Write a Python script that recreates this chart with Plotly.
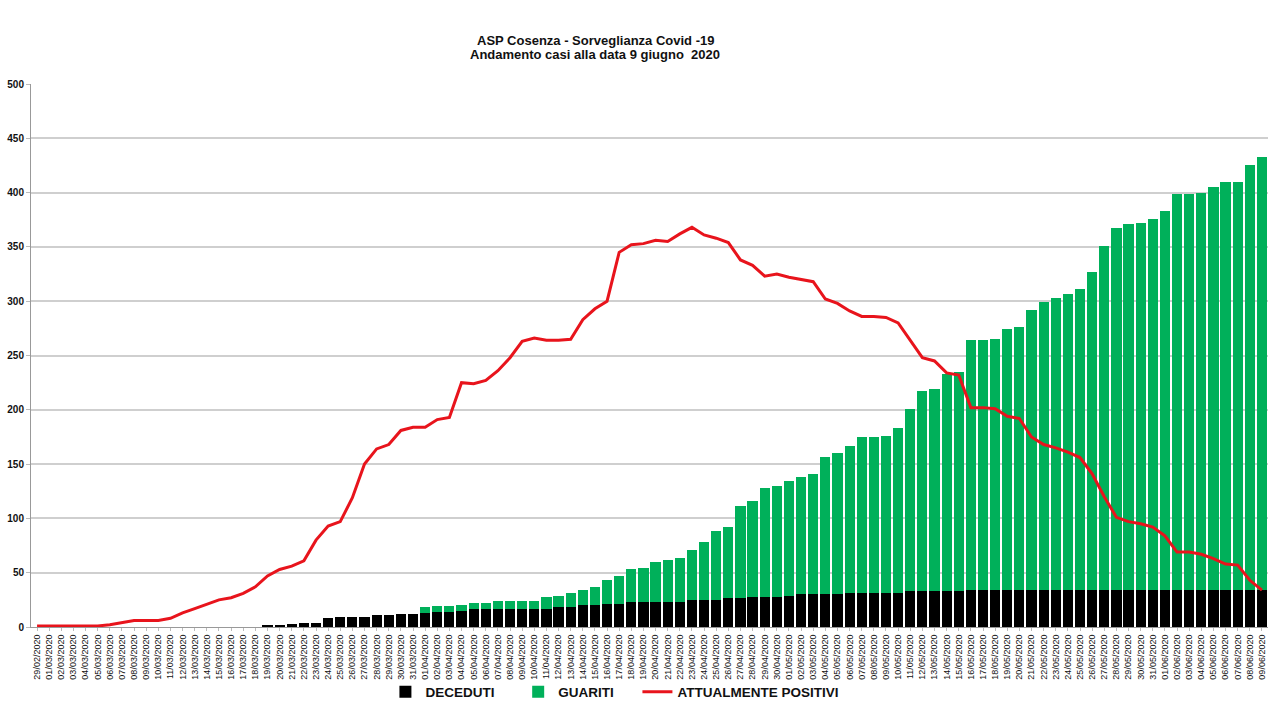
import datetime as dt
import plotly.graph_objects as go

# Categories: daily dates 29/02/2020 .. 09/06/2020
start = dt.date(2020, 2, 29)
dates = [(start + dt.timedelta(days=i)).strftime("%d/%m/%Y") for i in range(102)]

deceduti = [0] * 19 + [
    1, 2, 3, 4, 4, 8, 9, 9, 9, 11, 11, 12, 12,          # 19/03..31/03
    13, 14, 14, 15, 17, 17, 17, 17, 17, 17, 17, 18, 18,  # 01/04..13/04
    20, 20, 21, 21, 23, 23, 23, 23, 23, 25, 25, 25,      # 14/04..25/04
    27, 27, 28, 28, 28, 29, 30, 30, 30, 30, 31, 31, 31,  # 26/04..08/05
    31, 31, 33, 33, 33, 33, 33,                          # 09/05..15/05
] + [34] * 25                                            # 16/05..09/06

guariti = [0] * 32 + [
    5, 5, 5, 5, 5, 5, 7, 7, 7, 7, 11, 11, 13,            # 01/04..13/04
    14, 17, 22, 26, 30, 31, 37, 39, 41, 46, 53, 63,      # 14/04..25/04
    65, 84, 88, 100, 102, 105, 108, 111, 127, 130, 136, 144, 144,  # 26/04..08/05
    145, 152, 168, 184, 186, 200, 202,                   # 09/05..15/05
    230, 230, 231, 240, 242, 258, 265, 269, 273, 277,    # 16/05..25/05
    293, 317, 333, 337, 338, 342, 349, 365, 365, 366,    # 26/05..04/06
    371, 376, 376, 391, 399,                             # 05/06..09/06
]

positivi = [
    1, 1, 1, 1, 1, 1, 2, 4, 6, 6, 6, 8, 13, 17, 21, 25, 27, 31, 37, 47,
    53, 56, 61, 80, 93, 97, 119, 150, 164, 168, 181, 184, 184, 191, 193, 225,
    224, 227, 236, 248, 263, 266, 264, 264, 265, 283, 293, 300, 345, 352, 353,
    356, 355, 362, 368, 361, 358, 354, 338, 333, 323, 325, 322, 320, 318, 302,
    298, 291, 286, 286, 285, 280, 264, 248, 245, 234, 232, 202, 202, 201, 194,
    192, 175, 168, 165, 161, 156, 141, 120, 101, 97, 95, 92, 84, 69, 69, 67,
    63, 58, 57, 43, 34,
]

y_ticks = list(range(0, 501, 50))

title_lines = ["ASP Cosenza - Sorveglianza Covid -19",
               "Andamento casi alla data 9 giugno  2020"]

FONT = "Liberation Sans, Arial, sans-serif"
PAD = "\u00a0" * 5

fig = go.Figure()
fig.add_trace(go.Bar(x=dates, y=deceduti, name="DECEDUTI" + PAD,
                     marker=dict(color="#000000", line=dict(width=0))))
fig.add_trace(go.Bar(x=dates, y=guariti, name="GUARITI" + PAD,
                     marker=dict(color="#00B05A", line=dict(width=0))))
fig.add_trace(go.Scatter(x=dates, y=positivi, name="ATTUALMENTE POSITIVI",
                         mode="lines", line=dict(color="#E8141C", width=3)))

annotations = [
    dict(text=title_lines[0], x=0.456, y=1.081),
    dict(text=title_lines[1], x=0.456, y=1.0552),
]
for a in annotations:
    a.update(xref="paper", yref="paper", xanchor="center", yanchor="middle",
             showarrow=False,
             font=dict(size=13, family=FONT, weight="bold", color="#111"))

fig.update_layout(
    width=1272, height=716,
    barmode="stack", bargap=0.16,
    paper_bgcolor="white", plot_bgcolor="white",
    margin=dict(l=31, r=4, t=84, b=89),
    font=dict(family=FONT, color="black"),
    annotations=annotations,
    legend=dict(
        orientation="h", xref="container", yref="container",
        x=0.303, xanchor="left", y=0.0335, yanchor="middle",
        bgcolor="rgba(0,0,0,0)",
        font=dict(size=13.5, family=FONT, weight="bold", color="#111"),
        itemwidth=30, traceorder="normal",
    ),
    showlegend=True,
)

fig.update_xaxes(
    type="category", tickmode="array", tickvals=dates, ticktext=dates,
    tickangle=-90, tickfont=dict(size=9, family=FONT, color="#111"),
    showgrid=False, showline=True, linecolor="#999", linewidth=1,
    ticks="outside", ticklen=3, tickcolor="#bbb", automargin=False,
)
fig.update_yaxes(
    range=[0, 500], tickmode="array", tickvals=y_ticks,
    tickfont=dict(size=10, family=FONT, weight="bold", color="#111"),
    showgrid=True, gridcolor="#cfcfcf", gridwidth=1.5,
    showline=True, linecolor="#999", linewidth=1,
    ticks="outside", ticklen=4, tickcolor="#bbb", zeroline=False,
    automargin=False,
)

fig.write_html("out.html", config={"displayModeBar": False},
               post_script="document.body.style.margin='0';")
